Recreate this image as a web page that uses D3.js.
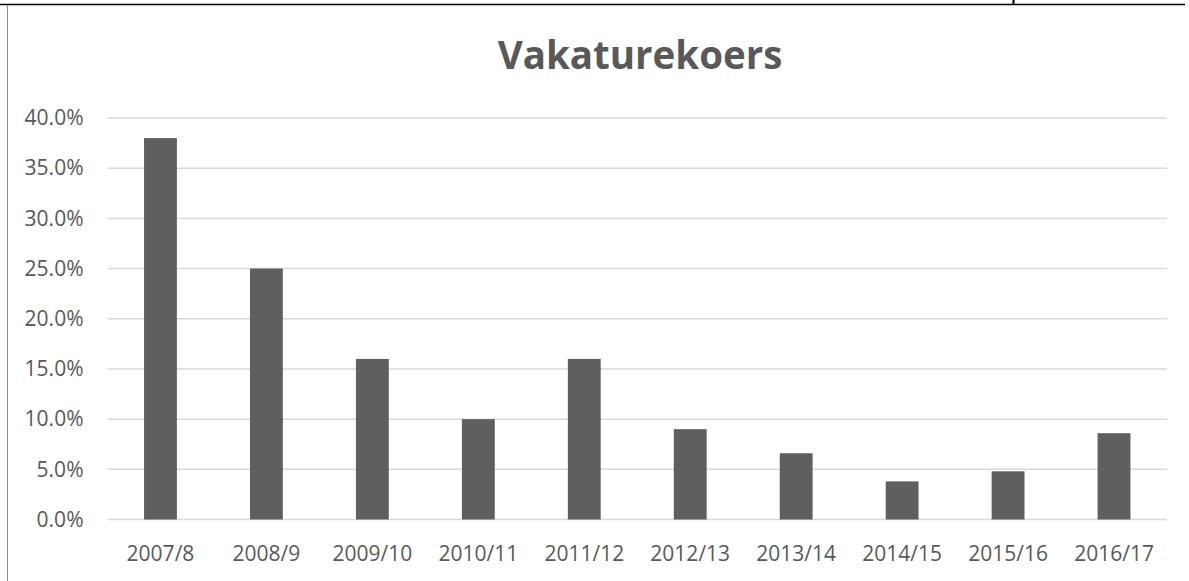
<!DOCTYPE html>
<html>
<head>
<meta charset="utf-8">
<script src="https://cdnjs.cloudflare.com/ajax/libs/d3/7.8.5/d3.min.js"></script>
<style>
  body { margin: 0; background: #fff; }
  svg { display: block; }
  text { font-family: "Open Sans", sans-serif; fill: #595959; }
</style>
</head>
<body>
<div id="chart"></div>
<script>
// chart data
const seasons = ['2007/8', '2008/9', '2009/10', '2010/11', '2011/12', '2012/13', '2013/14', '2014/15', '2015/16', '2016/17'];
const vacancyRate = [0.380, 0.250, 0.160, 0.100, 0.160, 0.090, 0.066, 0.038, 0.048, 0.086];
const yTicks = [0, 0.05, 0.10, 0.15, 0.20, 0.25, 0.30, 0.35, 0.40];
const chartTitle = 'Vakaturekoers';

const width = 1189, height = 581;
const margin = { top: 118, right: 22, bottom: 61, left: 107.5 };

const svg = d3.select('#chart')
  .append('svg')
  .attr('width', width)
  .attr('height', height);

// page edges from the original document
svg.append('line')
  .attr('x1', 0).attr('x2', 1185).attr('y1', 4.5).attr('y2', 4.5)
  .attr('stroke', '#000').attr('stroke-width', 1.5);
svg.append('line')
  .attr('x1', 1013.5).attr('x2', 1013.5).attr('y1', 0).attr('y2', 4.5)
  .attr('stroke', '#000').attr('stroke-width', 2);
svg.append('line')
  .attr('x1', 7.5).attr('x2', 7.5).attr('y1', 5).attr('y2', height)
  .attr('stroke', '#8c8c8c').attr('stroke-width', 1);

const x = d3.scaleBand()
  .domain(seasons)
  .range([margin.left, width - margin.right])
  .paddingInner(0.69)
  .paddingOuter(0.345);

const y = d3.scaleLinear()
  .domain([0, 0.40])
  .range([height - margin.bottom - 0.5, margin.top]);

// gridlines
svg.append('g')
  .selectAll('line')
  .data(yTicks)
  .join('line')
  .attr('x1', margin.left)
  .attr('x2', width - margin.right)
  .attr('y1', d => y(d))
  .attr('y2', d => y(d))
  .attr('stroke', '#d9d9d9')
  .attr('stroke-width', 1.5);

// bars
svg.append('g')
  .selectAll('rect')
  .data(vacancyRate)
  .join('rect')
  .attr('x', (d, i) => x(seasons[i]))
  .attr('y', d => y(d))
  .attr('width', x.bandwidth())
  .attr('height', d => y(0) - y(d))
  .attr('fill', '#5f5f5f');

// y axis labels
const yAxis = d3.axisLeft(y)
  .tickValues(yTicks)
  .tickFormat(d3.format('.1%'))
  .tickSize(0)
  .tickPadding(24);

svg.append('g')
  .attr('transform', `translate(${margin.left},0)`)
  .call(yAxis)
  .call(g => g.select('.domain').remove())
  .selectAll('text')
  .attr('font-size', 21)
  .attr('font-family', '"Open Sans", sans-serif')
  .attr('fill', '#595959');

// x axis labels
const xAxis = d3.axisBottom(x)
  .tickSize(0)
  .tickPadding(27);

svg.append('g')
  .attr('transform', `translate(0,${y(0)})`)
  .call(xAxis)
  .call(g => g.select('.domain').remove())
  .selectAll('text')
  .attr('font-size', 21)
  .attr('font-family', '"Open Sans", sans-serif')
  .attr('fill', '#595959');

// title
svg.append('text')
  .attr('x', 640)
  .attr('y', 69)
  .attr('text-anchor', 'middle')
  .attr('font-size', 38.5)
  .attr('font-weight', 'bold')
  .text(chartTitle);
</script>
</body>
</html>
